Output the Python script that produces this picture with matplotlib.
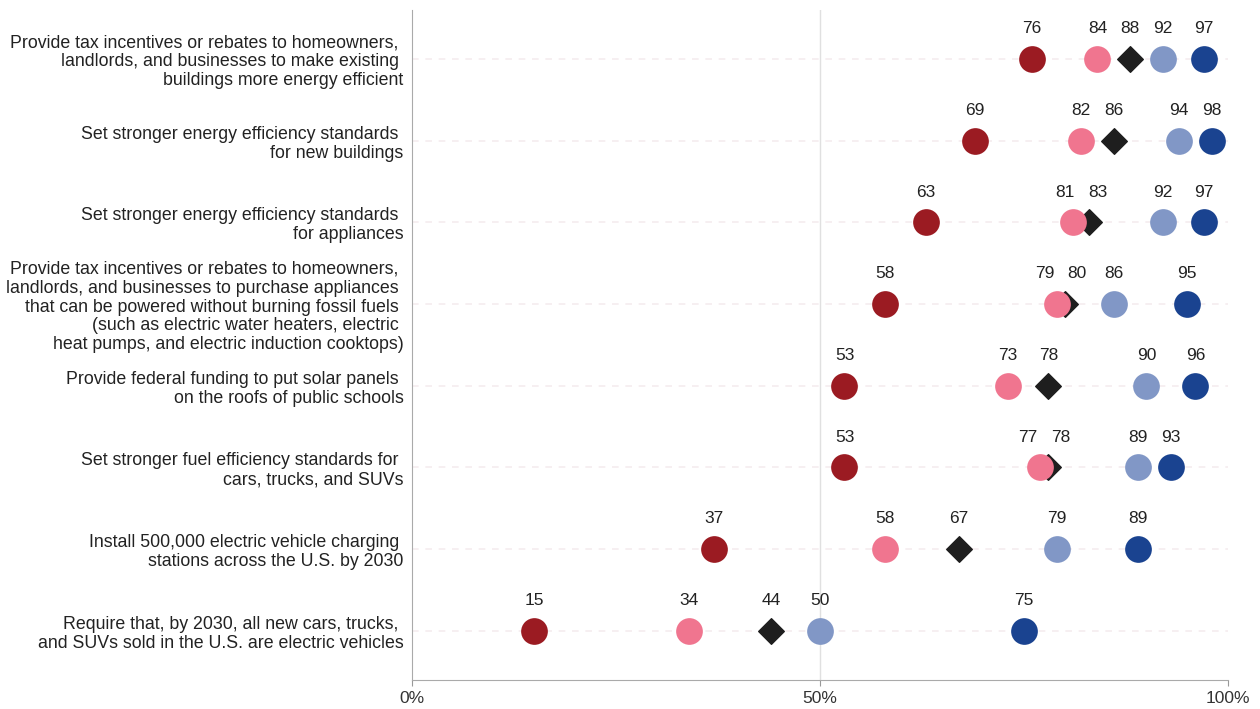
import matplotlib
matplotlib.use("Agg")
from matplotlib import pyplot as plt

plt.rcParams['font.family'] = ['Liberation Sans', 'DejaVu Sans']

policies = [
    "Provide tax incentives or rebates to homeowners, \nlandlords, and businesses to make existing \nbuildings more energy efficient",
    "Set stronger energy efficiency standards \nfor new buildings",
    "Set stronger energy efficiency standards \nfor appliances",
    "Provide tax incentives or rebates to homeowners, \nlandlords, and businesses to purchase appliances \nthat can be powered without burning fossil fuels \n(such as electric water heaters, electric \nheat pumps, and electric induction cooktops)",
    "Provide federal funding to put solar panels \non the roofs of public schools",
    "Set stronger fuel efficiency standards for \ncars, trucks, and SUVs",
    "Install 500,000 electric vehicle charging \nstations across the U.S. by 2030",
    "Require that, by 2030, all new cars, trucks, \nand SUVs sold in the U.S. are electric vehicles",
]

conservative_rep = [76, 69, 63, 58, 53, 53, 37, 15]
moderate_rep = [84, 82, 81, 79, 73, 77, 58, 34]
all_voters = [88, 86, 83, 80, 78, 78, 67, 44]
moderate_dem = [92, 94, 92, 86, 90, 89, 79, 50]
liberal_dem = [97, 98, 97, 95, 96, 93, 89, 75]

tick_vals = [0, 50, 100]
tick_labels = ['0%', '50%', '100%']

fig = plt.figure(figsize=(12.6, 7.09), dpi=100)
ax = fig.add_axes([0.327, 0.041, 0.6476, 0.945])

rows = list(range(len(policies)))

# faint row guides
for r in rows:
    ax.axhline(r, color='#f5ecef', lw=1.2, ls=(0, (4, 4)), zorder=0)
ax.axvline(50, color='#e0e0e0', lw=1, zorder=0)

ax.scatter(all_voters, rows, marker='D', s=170, color='#1e1e1e', zorder=2)
circles = [
    (conservative_rep, '#9b1b22'),
    (moderate_rep, '#f0758f'),
    (moderate_dem, '#8197c6'),
    (liberal_dem, '#1a4390'),
]
for vals, col in circles:
    ax.scatter(vals, rows, s=370, color=col, zorder=3, linewidths=0)

# value labels above markers, spread apart when they crowd
min_gap = 4.0
for r in rows:
    vals = sorted([conservative_rep[r], moderate_rep[r], all_voters[r],
                   moderate_dem[r], liberal_dem[r]])
    pos = [float(v) for v in vals]
    for _ in range(10):
        for i in range(len(pos) - 1):
            gap = pos[i + 1] - pos[i]
            if gap < min_gap:
                mid = (pos[i] + pos[i + 1]) / 2
                pos[i] = mid - min_gap / 2
                pos[i + 1] = mid + min_gap / 2
    for v, p in zip(vals, pos):
        ax.text(p, r - 0.37, str(v), ha='center', va='center',
                fontsize=12.5, color='#222222')

ax.set_xlim(0, 100)
ax.set_ylim(len(policies) - 0.4, -0.6)
ax.set_yticks(rows)
ax.set_yticklabels(policies, fontsize=12.8, color='#222222', linespacing=1.15)
ax.tick_params(axis='y', length=0, pad=6)
ax.set_xticks(tick_vals)
ax.set_xticklabels(tick_labels, fontsize=12.5, color='#333333')
ax.tick_params(axis='x', length=4, color='#999999', pad=4)

for side in ['top', 'right']:
    ax.spines[side].set_visible(False)
ax.spines['left'].set_color('#aaaaaa')
ax.spines['bottom'].set_color('#aaaaaa')

fig.savefig('out.png', dpi=100)
